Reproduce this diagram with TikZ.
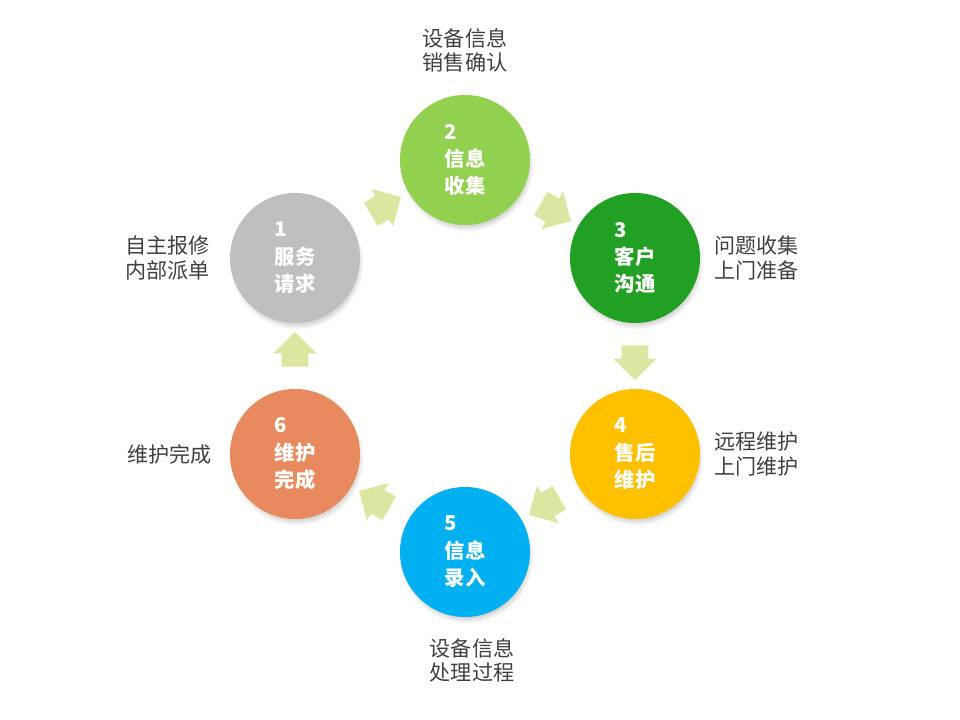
\documentclass[tikz,border=0pt]{standalone}
\usepackage{fontspec}
\setmainfont{Noto Sans CJK SC}
\usepackage{tikz}
\usetikzlibrary{positioning,shapes.arrows,shadows}
\definecolor{stepgray}{RGB}{191,191,191}
\definecolor{stepgreen}{RGB}{146,208,80}
\definecolor{stepdark}{RGB}{34,160,36}
\definecolor{stepamber}{RGB}{255,192,0}
\definecolor{stepblue}{RGB}{0,176,240}
\definecolor{steporange}{RGB}{232,138,93}
\definecolor{flowgreen}{RGB}{220,230,160}
\definecolor{notegray}{RGB}{64,64,64}

\begin{document}
\begin{tikzpicture}[x=0.025cm, y=0.025cm,
  stage/.style={circle, minimum size=3.25cm, inner sep=0pt, align=left, text=white,
    font=\bfseries\fontsize{14.5}{19.5}\selectfont,
    circular drop shadow={shadow xshift=1pt, shadow yshift=-3pt, shadow scale=1.03, opacity=0.5}},
  note/.style={align=left, text=notegray, font=\fontsize{15}{17.5}\selectfont},
  flow/.style={single arrow, fill=flowgreen, draw=none, inner xsep=0pt, inner ysep=0.325cm,
    minimum height=0.87cm, minimum width=1.08cm, single arrow head extend=0.2cm,
    sloped, allow upside down, midway}
]
\useasboundingbox (0,0) rectangle (960,720);

% the six steps
\node[stage, fill=stepgray] (s1) at (295,462) {1\\服务\\请求};
\node[stage, fill=stepgreen] (s2) at (465,560) {2\\信息\\收集};
\node[stage, fill=stepdark] (s3) at (635,462) {3\\客户\\沟通};
\node[stage, fill=stepamber] (s4) at (635,266) {4\\售后\\维护};
\node[stage, fill=stepblue] (s5) at (465,168) {5\\信息\\录入};
\node[stage, fill=steporange] (s6) at (295,266) {6\\维护\\完成};

% notes
\node[note, left=0.375cm of s1] (n1) {自主报修\\内部派单};
\node[note, above=0.425cm of s2] (n2) {设备信息\\销售确认};
\node[note, right=0.225cm of s3] (n3) {问题收集\\上门准备};
\node[note, right=0.225cm of s4] (n4) {远程维护\\上门维护};
\node[note, below=0.4cm of s5, xshift=0.175cm] (n5) {设备信息\\处理过程};
\node[note, left=0.325cm of s6] (n6) {维护完成};

% block arrows
\path (s1) -- (s2) node[flow] (a12) {};
\path (s2) -- (s3) node[flow] (a23) {};
\path (s3) -- (s4) node[flow] (a34) {};
\path (s4) -- (s5) node[flow] (a45) {};
\path (s5) -- (s6) node[flow] (a56) {};
\path (s6) -- (s1) node[flow] (a61) {};
\end{tikzpicture}
\end{document}
